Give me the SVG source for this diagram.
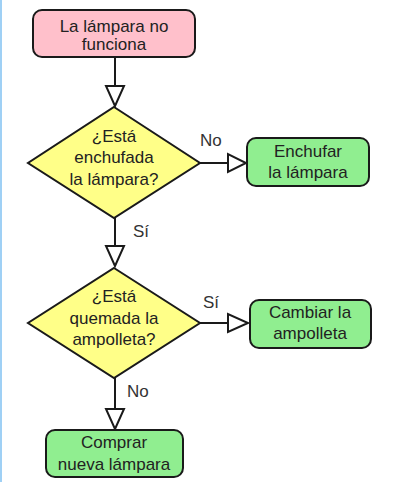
<svg xmlns="http://www.w3.org/2000/svg" width="401" height="482" viewBox="0 0 401 482">
<defs>
<style>
.box{stroke:#1a1a1a;stroke-width:2}
.start{fill:#ffc0cb}
.end{fill:#90ee90}
.dec{fill:#ffff88;stroke:#1a1a1a;stroke-width:2}
.t{font-family:"Liberation Sans",Arial,sans-serif;font-size:17px;fill:#222;text-anchor:middle}
.lbl{font-family:"Liberation Sans",Arial,sans-serif;font-size:17px;fill:#333}
.ln{stroke:#1a1a1a;stroke-width:2;fill:none}
.ah{fill:#fff;stroke:#1a1a1a;stroke-width:2;stroke-linejoin:miter}
</style>
</defs>
<rect x="0" y="0" width="401" height="482" fill="#fff"/>
<rect x="0" y="0" width="2" height="482" fill="#9fd0f5"/>
<g id="connectors">
<line class="ln" x1="115" y1="57" x2="115" y2="86"/>
<polygon class="ah" points="106,86 124,86 115,106"/>
<line class="ln" x1="200" y1="163" x2="228" y2="163"/>
<polygon class="ah" points="228,154 228,172 246,163"/>
<text class="lbl" x="200" y="146">No</text>
<line class="ln" x1="115" y1="218" x2="115" y2="246"/>
<polygon class="ah" points="106,246 124,246 115,266"/>
<text class="lbl" x="133" y="237">Sí</text>
<line class="ln" x1="200" y1="323" x2="228" y2="323"/>
<polygon class="ah" points="228,314 228,332 248,323"/>
<text class="lbl" x="203" y="308">Sí</text>
<line class="ln" x1="115" y1="378" x2="115" y2="409"/>
<polygon class="ah" points="106,409 124,409 115,429"/>
<text class="lbl" x="127" y="397">No</text>
</g>
<g id="start">
<rect class="box start" x="33" y="10" width="162" height="47" rx="9"/>
<text class="t" x="114" y="32">La lámpara no</text>
<text class="t" x="114" y="50">funciona</text>
</g>
<g id="dec1">
<polygon class="dec" points="114,107 200,163 114,218 28,163"/>
<text class="t" x="114" y="142">¿Está</text>
<text class="t" x="114" y="163">enchufada</text>
<text class="t" x="114" y="185">la lámpara?</text>
</g>
<g id="plug">
<rect class="box end" x="247" y="138" width="122" height="48" rx="9"/>
<text class="t" x="308" y="157">Enchufar</text>
<text class="t" x="308" y="178">la lámpara</text>
</g>
<g id="dec2">
<polygon class="dec" points="114,268 200,323 114,378 28,323"/>
<text class="t" x="114" y="302">¿Está</text>
<text class="t" x="114" y="324">quemada la</text>
<text class="t" x="114" y="345">ampolleta?</text>
</g>
<g id="change">
<rect class="box end" x="250" y="300" width="121" height="48" rx="9"/>
<text class="t" x="310" y="318">Cambiar la</text>
<text class="t" x="310" y="339">ampolleta</text>
</g>
<g id="buy">
<rect class="box end" x="46" y="430" width="137" height="47" rx="9"/>
<text class="t" x="114" y="448">Comprar</text>
<text class="t" x="114" y="470">nueva lámpara</text>
</g>
</svg>
